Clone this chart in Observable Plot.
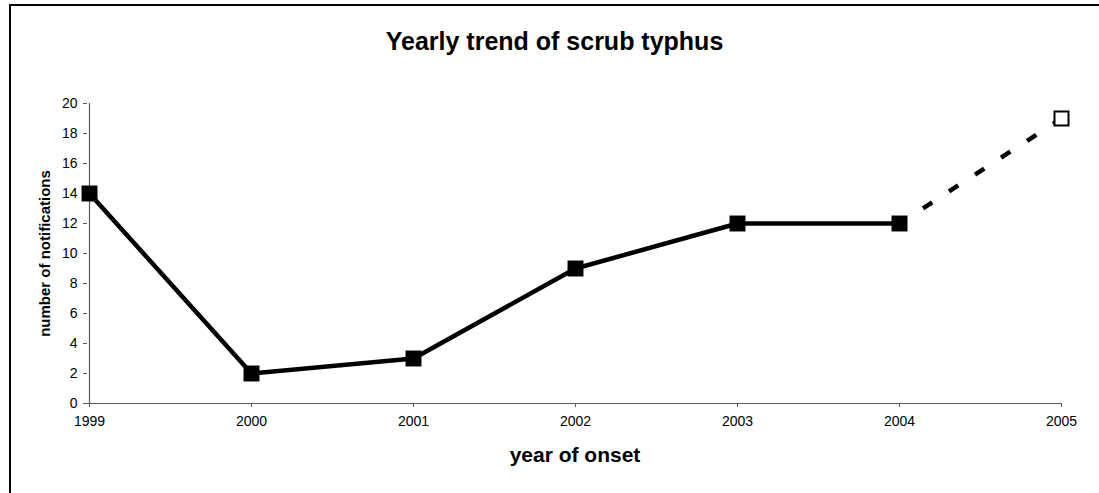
<!DOCTYPE html>
<html>
<head>
<meta charset="utf-8">
<script src="https://cdn.jsdelivr.net/npm/d3@7"></script>
<script src="https://cdn.jsdelivr.net/npm/@observablehq/plot@0.6"></script>
<style>
  html, body { margin: 0; padding: 0; background: #fff; }
  #wrap { position: relative; width: 1099px; height: 493px; overflow: hidden; font-family: "Liberation Sans", Arial, sans-serif; }
  #border { position: absolute; left: 9px; top: 4px; width: 1200px; height: 600px; border-top: 2px solid #000; border-left: 2px solid #000; pointer-events: none; }
  #title { margin-left: 10px; width: 1089px; height: 41px; padding-top: 29px; line-height: 25px; font-size: 25px; font-weight: bold; text-align: center; color: #000; }
  #chart svg { display: block; }
</style>
</head>
<body>
<div id="wrap">
  <div id="border"></div>
  <div id="title">Yearly trend of scrub typhus</div>
  <div id="chart"></div>
</div>
<script>
// Data
const years = ["1999", "2000", "2001", "2002", "2003", "2004", "2005"];
const notifications = [14, 2, 3, 9, 12, 12, 19];
const reportStatus = ["final", "final", "final", "final", "final", "final", "provisional"];
const yTicks = [0, 2, 4, 6, 8, 10, 12, 14, 16, 18, 20];
const xTitle = "year of onset";
const yTitle = "number of notifications";

const rows = years.map((year, i) => ({year, value: notifications[i], status: reportStatus[i]}));
const finalRows = rows.filter(d => d.status === "final");
const provIdx = rows.findIndex(d => d.status === "provisional");
const dashedRows = rows.slice(provIdx - 1);
const provRows = rows.filter(d => d.status === "provisional");

const axisColor = "#5a5a5a";
const font = "'Liberation Sans', Arial, sans-serif";

const chart = Plot.plot({
  width: 1099,
  height: 423,
  marginTop: 33,
  marginBottom: 90,
  marginLeft: 87,
  marginRight: 37,
  style: {fontFamily: font, fontSize: "14px", color: "#000", background: "#fff"},
  x: {type: "point", domain: years, padding: 0},
  y: {domain: [0, 20]},
  marks: [
    Plot.ruleY([0], {stroke: axisColor, strokeWidth: 1.2}),
    Plot.ruleX([years[0]], {stroke: axisColor, strokeWidth: 1.2}),
    Plot.axisX({tickSize: 4, tickPadding: 9, stroke: axisColor, fill: "#000", label: null, fontSize: 14}),
    Plot.axisY({ticks: yTicks, tickSize: 4, tickPadding: 6, stroke: axisColor, fill: "#000", label: null, fontSize: 14}),
    Plot.line(finalRows, {x: "year", y: "value", stroke: "#000", strokeWidth: 4.5, strokeLinejoin: "miter", strokeLinecap: "butt"}),
    Plot.line(dashedRows, {x: "year", y: "value", stroke: "#000", strokeWidth: 4.5, strokeDasharray: "11,20", strokeDashoffset: 3, strokeLinecap: "butt"}),
    Plot.dot(finalRows, {x: "year", y: "value", symbol: "square", r: 9, fill: "#000", stroke: "none"}),
    Plot.dot(provRows, {x: "year", y: "value", symbol: "square", r: 7.9, fill: "#fff", stroke: "#000", strokeWidth: 2}),
    Plot.text([xTitle], {text: d => d, frameAnchor: "bottom", dy: 52, lineAnchor: "middle", textAnchor: "middle", fontSize: 21, fontWeight: "bold", fill: "#000"}),
    Plot.text([yTitle], {text: d => d, frameAnchor: "left", dx: -42, rotate: -90, textAnchor: "middle", lineAnchor: "middle", fontSize: 15, fontWeight: "bold", fill: "#000"})
  ]
});
document.getElementById("chart").appendChild(chart);
</script>
</body>
</html>
